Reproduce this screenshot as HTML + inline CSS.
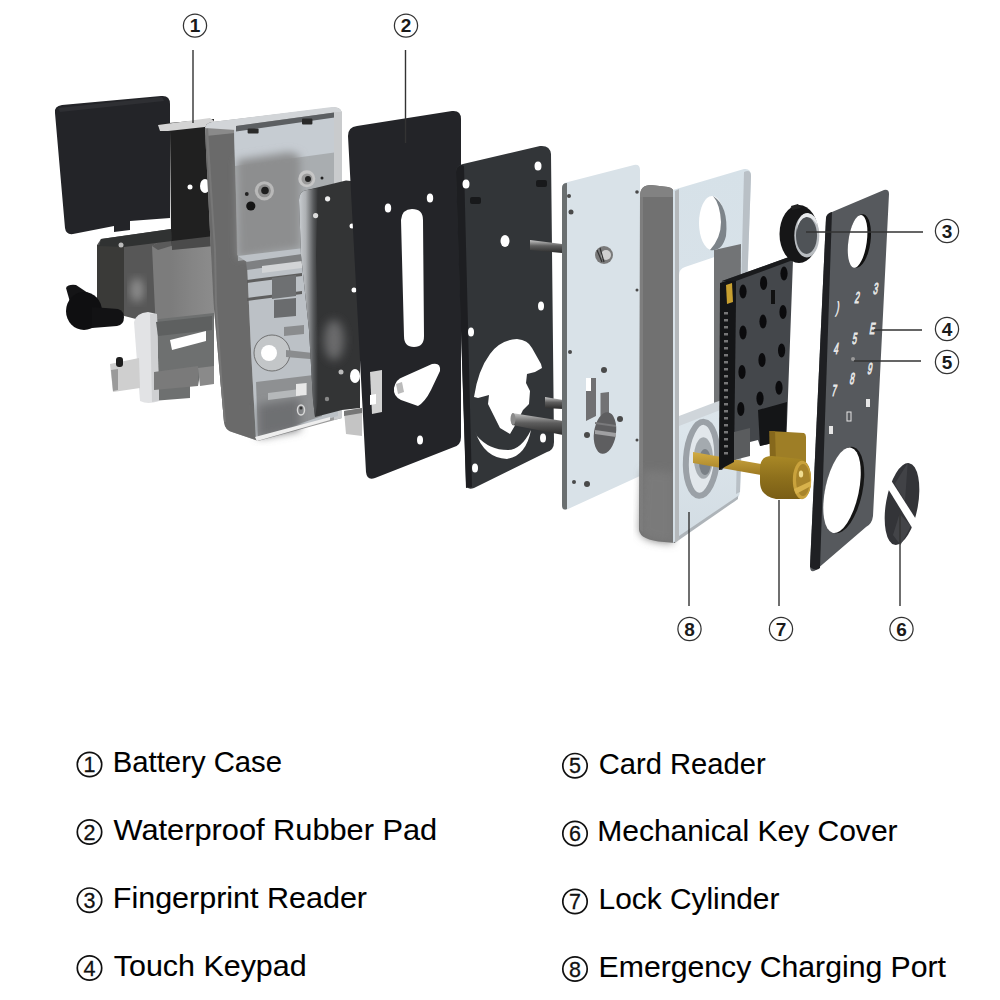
<!DOCTYPE html>
<html><head><meta charset="utf-8">
<style>
html,body{margin:0;padding:0;background:#fff;width:1000px;height:1000px;overflow:hidden}
svg{display:block}
text{font-family:"Liberation Sans",sans-serif}
</style></head><body>
<svg width="1000" height="1000" viewBox="0 0 1000 1000">
<defs>
<filter id="blur2" x="-20%" y="-20%" width="140%" height="140%"><feGaussianBlur stdDeviation="4"/></filter>
<filter id="blur3" x="-50%" y="-50%" width="200%" height="200%"><feGaussianBlur stdDeviation="5"/></filter>
<linearGradient id="gBrPlate" x1="0" y1="0" x2="1" y2="0"><stop offset="0" stop-color="#c8ccd0"/><stop offset="0.35" stop-color="#aeb1b4"/><stop offset="0.75" stop-color="#5a5c5e"/><stop offset="1" stop-color="#333435"/></linearGradient>
<linearGradient id="gBoxR" x1="171" y1="0" x2="214" y2="0" gradientUnits="userSpaceOnUse"><stop offset="0" stop-color="#7c7c7c"/><stop offset="0.5" stop-color="#858585"/><stop offset="1" stop-color="#8c8c8c"/></linearGradient>
<linearGradient id="gHousSide" x1="0" y1="0" x2="1" y2="0"><stop offset="0" stop-color="#a4a4a4"/><stop offset="0.5" stop-color="#8c8c8c"/><stop offset="1" stop-color="#7a7a7a"/></linearGradient>
<linearGradient id="gFrameSide" x1="0" y1="0" x2="1" y2="0"><stop offset="0" stop-color="#9a9a9a"/><stop offset="0.3" stop-color="#7a7a7a"/><stop offset="1" stop-color="#6a6a6a"/></linearGradient>
<linearGradient id="gFrameFront" x1="0" y1="0" x2="0" y2="1"><stop offset="0" stop-color="#d6e1e8"/><stop offset="0.3" stop-color="#d8e2e9"/><stop offset="0.7" stop-color="#dce5eb"/><stop offset="1" stop-color="#d2dce3"/></linearGradient>
<linearGradient id="gRod" x1="0" y1="0" x2="0" y2="1"><stop offset="0" stop-color="#c8c8c8"/><stop offset="0.45" stop-color="#5e5e5e"/><stop offset="1" stop-color="#2a2a2a"/></linearGradient>
<linearGradient id="gBrass" x1="0" y1="0" x2="0" y2="1"><stop offset="0" stop-color="#a98826"/><stop offset="0.5" stop-color="#8e701c"/><stop offset="1" stop-color="#7a5e16"/></linearGradient>
<linearGradient id="gBrassShaft" x1="0" y1="0" x2="0" y2="1"><stop offset="0" stop-color="#d2ac44"/><stop offset="1" stop-color="#9e7a22"/></linearGradient>
</defs>
<g id="art">
<path d="M55,113 Q54,106 62,105 L161,96 Q170,95 170,104 L170,218 L130,221 L130,230 L114,232 L114,226 L73,234 Q66,235 65,228 Z" fill="#232428"/>
<path d="M58,108 L162,97 L164,101 L60,112 Z" fill="#2e2f33"/>
<path d="M97,245 L101,239 L171,229 L214,228 L214,321 L171,328 L97,309 Z" fill="#575757"/>
<path d="M97,245 L124,246 L124,315 L97,309 Z" fill="#3a3a38"/>
<path d="M124,246 L171,240 L171,328 L124,315 Z" fill="#575757"/>
<ellipse cx="137" cy="290" rx="7" ry="12" fill="#8a8a8a" filter="url(#blur2)"/>
<path d="M152,246 Q160,240 171,240 L214,236 L214,321 L171,330 L156,332 Z" fill="url(#gBoxR)"/><path d="M152,246 Q160,240 171,240 L214,236 L214,242 L171,246 L158,250 Z" fill="#5a5a5a"/>
<path d="M101,239 L171,229 L172,241 L124,247 L99,246 Z" fill="#303232"/>
<circle cx="121" cy="245" r="2.5" fill="#bbb"/>
<path d="M158,124 L214,119 L214,245 L172,248 L171,229 L170,130 Z" fill="#202020"/>
<path d="M158,125 L210,118 L214,121 L214,126 L168,131 L160,131 Z" fill="#d4d4d4"/>
<path d="M172,241 L214,236 L214,246 L172,250 Z" fill="#4a4a4a"/>
<ellipse cx="205" cy="186" rx="5" ry="7" fill="#fff"/><circle cx="190" cy="187" r="2.5" fill="#fff"/>
<path d="M150,320 L214,313 L214,372 L200,374 L198,386 L190,386 L190,398 L152,401 Z" fill="#6e7070"/>
<path d="M134,322 Q136,313 148,312 L157,314 L159,401 Q148,405 140,401 Z" fill="#e2e3e5"/><path d="M150,314 L157,314 L159,401 L152,402 Z" fill="#cfd0d2"/>
<path d="M170,340 L206,331 L206,341 L172,350 Z" fill="#fff"/>
<path d="M154,372 L198,366 L198,386 L154,390 Z" fill="#7a7a7a"/>
<path d="M198,368 L214,366 L214,384 L200,386 Z" fill="#8a8a8a"/>
<path d="M156,322 L212,316 L212,330 L158,336 Z" fill="#5e6060"/>
<path d="M110,364 L139,358 L140,388 L113,392 Z" fill="#cfcfcf"/>
<path d="M111,370 L118,369 L118,390 L113,391 Z" fill="#9a9a9a"/>
<rect x="116" y="357" width="7" height="10" rx="3" fill="#1e1e1e"/>
<path d="M66,288 Q68,284 76,285 L88,293 L70,302 Z" fill="#141416"/>
<ellipse cx="84" cy="311" rx="18" ry="19" fill="#0f0f11"/>
<path d="M92,307 L118,309 Q124,311 124,317 Q124,325 117,326 L92,328 Z" fill="#121214"/>
<path d="M205,130 Q205,123 212,122 L334,107.5 Q342,107 342,115 L342,418 L258,441 L232,432 Q225,430 224,422 L220.3,380 L213.5,303 Z" fill="#9a9a9a"/>
<path d="M205,130 Q205,123 212,122 L234.5,127 L237,255 L247,262 L251,350 L256,440 L232,432 Q225,430 224,422 L220.3,380 L213.5,303 Z" fill="#6a6a6a"/>
<path d="M205,130 Q205,123 212,122 L234.5,127 L235,133 L206,136 Z" fill="#8a8a8a"/>
<path d="M205.5,130 L208,128 L213,205 L216,250 L217,303 L222.3,380 L226,422 L224,422 L220.3,380 L215,303 L214,250 L211,205 Z" fill="#777"/>
<path d="M234,128 L338,114 L338,246 L238,261 Z" fill="#a9adb0"/>
<path d="M234,128 L338,114 L338,152 L235,166 Z" fill="#c6ccd2"/>
<path d="M237,160 L290,152 L300,156 L300,248 L238,258 Z" fill="#8d8e8f" filter="url(#blur2)"/>
<path d="M205,128 Q206,123 212,122 L332,107 Q341,106.5 342,113 L338,112 L236,126 L236,130 Z" fill="#d2d5d8"/>
<path d="M236,126 L338,112 L338,117 L236,131.5 Z" fill="#5c5f62"/>
<path d="M334,112 L342,112 L342,418 L334,420 Z" fill="#c9cbcd"/>
<rect x="247.6" y="128.4" width="11" height="5" rx="1" fill="#2a2a2a"/><rect x="302" y="118.5" width="10.4" height="6" rx="1" fill="#2a2a2a"/>
<circle cx="264.4" cy="190.8" r="9.6" fill="#b8b8b8"/><circle cx="264.4" cy="190.8" r="6.5" fill="#8e8e8e"/><circle cx="265" cy="190.5" r="3.8" fill="#1e1e1e"/>
<circle cx="250.8" cy="206" r="4.6" fill="#151515"/><circle cx="246.8" cy="194" r="1.9" fill="#222"/>
<circle cx="306.8" cy="178.8" r="8.5" fill="#c6c6c6"/><circle cx="307" cy="179" r="5.5" fill="#9a9a9a"/><circle cx="308" cy="179" r="3" fill="#222"/><circle cx="322" cy="178" r="1.5" fill="#222"/>
<path d="M238,256 L338,244 L338,416 L256,440 L251,350 L247,262 Z" fill="#bcc1c6"/>
<path d="M246,262 L302,254 L302,262 L247,270 Z" fill="#7e8082"/>
<path d="M262,266 L302,261 L302,268 L262,273 Z" fill="#d2d4d6"/>
<path d="M247,280 L302,273 L302,276 L247,283 Z" fill="#5e5e5e"/>
<path d="M247,298 L302,291 L302,294 L247,301 Z" fill="#5e5e5e"/>
<path d="M272,278 L296,275 L296,296 L272,299 Z" fill="#6e7072"/>
<path d="M274,300 L296,298 L296,316 L274,318 Z" fill="#6a6c6e"/>
<circle cx="272" cy="353" r="18" fill="#c3c6c8" stroke="#5a5a5a" stroke-width="0.8"/><circle cx="269" cy="353" r="8" fill="#fff"/>
<path d="M284,327 L304,325 L304,334 L284,336 Z" fill="#8a8c8e"/>
<path d="M286,350 L322,354 L322,360 L286,357 Z" fill="#8a8c8e"/>
<path d="M256,382 L322,374 L322,416 L258,438 Z" fill="#8e9092"/>
<path d="M258,405 L300,398 L300,430 L258,438 Z" fill="#6e7072" filter="url(#blur2)"/>
<path d="M268,393 L300,389 L300,396 L268,400 Z" fill="#b5b8ba"/>
<path d="M296,384 L306.6,383 L306.6,395 L296,396 Z" fill="#e8e8e8"/>
<ellipse cx="301" cy="410" rx="3.5" ry="5" fill="none" stroke="#d8d8d8" stroke-width="1.5"/><circle cx="301" cy="408" r="1.5" fill="#333"/>
<path d="M255,437 L330,417 L330,420 L257,441 Z" fill="#eeeeee"/>
<path d="M299,200 Q299,191 307,190 L346,180.5 L360,182 L360,408 L342,410 L315,417 L313,400 L309,330 L301,255 Z" fill="#333435"/>
<path d="M299,200 Q299,191 307,190 L318,188 L316,255 L318,330 L318,400 L315,417 L313,400 L309,330 L301,255 Z" fill="url(#gBrPlate)"/>
<ellipse cx="334" cy="340" rx="10" ry="20" fill="#6a6b6c" filter="url(#blur3)"/>
<circle cx="327.6" cy="198.8" r="2.6" fill="#eee"/><circle cx="315.6" cy="215.6" r="2.6" fill="#ddd"/>
<ellipse cx="355" cy="376" rx="5" ry="7" fill="#fff"/><circle cx="341" cy="372" r="2.5" fill="#bbb"/><circle cx="352" cy="226" r="2.5" fill="#fff"/><circle cx="354" cy="290" r="2.5" fill="#fff"/><circle cx="327" cy="399" r="2.2" fill="#888"/>
<path d="M344,411 L362,408 L362,436 L346,434 Z" fill="#c4c4c4"/><path d="M344,411 L362,408 L362,413 L344,416 Z" fill="#777"/>
<path d="M348,136 Q348,127 357,126 L452,111 Q461,110 461,119 L461,437 Q461,445 454,447 L375,478 Q367,481 366,472 Z" fill="#232428"/>
<path d="M401,220 Q402,209 412,209 Q423,209 423,220 L424,336 Q424,347 414,347 Q404,347 404,336 Z" fill="#fff"/>
<path d="M394,388 Q396,379 403,377 L432,364 Q441,362 440,371 L431,390 Q425,402 418,406 L401,400 Q393,396 394,388 Z" fill="#fff"/>
<path d="M396,384 L402,382 L404,392 L398,394 Z" fill="#bbb"/>
<path d="M370,372 L382,370 L382,412 L372,414 Z" fill="#d2d2d2"/><path d="M370,395 L376,394 L376,404 L370,405 Z" fill="#fff"/>
<ellipse cx="388" cy="208" rx="3.2" ry="4.5" fill="#fff"/><ellipse cx="430" cy="198" rx="3.2" ry="4.5" fill="#fff"/><ellipse cx="420" cy="440" rx="3" ry="4.5" fill="#fff"/>
<path d="M456,172 Q456,165 463,164 L540,146 Q550,145 551,154 L554,442 Q554,450 547,452 L474,488 Q466,491 466,482 Z" fill="#323538"/>
<path d="M456,172 Q456,166 462,165 L464,166 L472,487 L466,488 Z" fill="#1d1e21"/>
<path d="M474,397 Q478,370 490,354 Q500,340 517,339 Q528,340 532,348 L541,364 L542,368 L535,372 L527,374 L526,383 L530,391 L529,404 L523,410 L517,422 L510,434 L500,428 L494,416 L488,404 L489,395 L478,398 Z" fill="#fff"/>
<path d="M475,431 Q484,458 507,459 Q526,456 531,430 Q521,450 508,450 Q489,450 477,436 Z" fill="#fff"/>
<ellipse cx="466" cy="184" rx="3.5" ry="4.5" fill="#fff"/><ellipse cx="538" cy="166" rx="3.5" ry="4.5" fill="#fff"/><ellipse cx="505" cy="241" rx="4.5" ry="6" fill="#fff"/><ellipse cx="541" cy="306" rx="3" ry="4.5" fill="#fff"/><ellipse cx="471" cy="332" rx="3" ry="4.5" fill="#fff"/><ellipse cx="543" cy="438" rx="3" ry="4.5" fill="#fff"/><ellipse cx="475" cy="468" rx="3" ry="4.5" fill="#fff"/>
<rect x="470" y="197" width="11" height="7" rx="2" fill="#18191b"/><rect x="536" y="180" width="11" height="7" rx="2" fill="#18191b"/>
<path d="M530,240 L562,244 L562,253 L530,250 Z" fill="url(#gRod)"/>
<path d="M545,397 L563,400 L563,409 L545,408 Z" fill="url(#gRod)"/>
<path d="M512,413 L563,421 L563,435 L512,425 Z" fill="url(#gRod)"/>
<ellipse cx="513" cy="419" rx="2.5" ry="6" fill="#8a8a8a"/>
<path d="M562,188 Q562,183 568,182 L634,165 Q640,164 640,170 L640,476 L568,509 Q562,511 562,505 Z" fill="#d9e2e8"/>
<path d="M562,188 Q562,183 567,183 L567,509 Q562,511 562,505 Z" fill="#6a6f70"/>
<circle cx="604" cy="255" r="9" fill="#7a7a7a"/><circle cx="606" cy="255" r="5" fill="#d0d0d0"/><path d="M597,250 L602,262 M600,248 L604,262" stroke="#333" stroke-width="1.2"/>
<circle cx="569" cy="196" r="2" fill="#4a4a4a"/>
<circle cx="571" cy="212" r="2.5" fill="#4a4a4a"/>
<circle cx="637" cy="192" r="1.8" fill="#4a4a4a"/>
<circle cx="570" cy="352" r="2" fill="#4a4a4a"/>
<circle cx="604" cy="370" r="3" fill="#4a4a4a"/>
<circle cx="587" cy="435" r="3" fill="#4a4a4a"/>
<circle cx="620" cy="419" r="3" fill="#4a4a4a"/>
<circle cx="587" cy="484" r="3" fill="#4a4a4a"/>
<circle cx="574" cy="482" r="2" fill="#4a4a4a"/>
<circle cx="637" cy="290" r="1.5" fill="#4a4a4a"/>
<circle cx="637" cy="440" r="1.5" fill="#4a4a4a"/>
<path d="M586,378 L596,378 L596,416 L586,421 Z" fill="#707072"/><path d="M586,378 L591,378 L591,391 L586,391 Z" fill="#fff"/>
<path d="M600.5,393 L609,392 L609,414 L600.5,416 Z" fill="#727274"/>
<ellipse cx="605" cy="433" rx="11" ry="21" transform="rotate(8 605 433)" fill="#5e5e60"/><path d="M595,430 L616,433 L616,437 L595,434 Z" fill="#a0a0a2"/><path d="M595,422 L616,425 L616,427 L595,424 Z" fill="#7a7a7c"/>
<path d="M640,196 Q640,185 651,185 L668,187 Q675,188 675,197 L675,543 L664,542 Q640,540 639,530 Z" fill="#717171"/>
<path d="M640,196 Q640,185 651,185 L668,187 Q675,188 675,197 L640,197 Z" fill="#828282"/>
<path d="M640,197 L643,197 L643,532 L640,530 Z" fill="#7e7e7e"/>
<path d="M643,470 L673,472 L673,543 L664,542 Q641,540 640,530 Z" fill="#7a7a7a" filter="url(#blur2)"/>
<path d="M673,190 L744,169 Q751,168 751,176 L740,490 Q740,500 730,504 L673,543 Z" fill="url(#gFrameFront)"/>
<path d="M675,191 L679,189 L679,540 L675,543 Z" fill="#b4b8bb"/>
<path d="M744,172 Q751,169 751,176 L740,492 L736,494 Z" fill="#b9c0c6"/>
<path d="M679,536 L738,496 L738,499 L679,540 Z" fill="#aeb4b9"/>
<path d="M679,275 Q679,269 685,267 L716,256.5 L720,402 L679,420 Z" fill="#fff"/>
<path d="M714,250 L741,244 L740,396 L714,404 Z" fill="#727476"/>
<path d="M679,416 L716,402 L741,394 L741,402 L679,426 Z" fill="#cfd5da"/>
<ellipse cx="712" cy="223" rx="13" ry="27" fill="#fff"/><path d="M713,196 Q729,206 726,236 Q722,252 710,250 Q721,238 721,222 Q720,204 713,196 Z" fill="#7d848a"/>
<ellipse cx="701.5" cy="458.8" rx="15.5" ry="37" transform="rotate(4 701.5 458.8)" fill="#e2e7eb" stroke="#9ba1a7" stroke-width="6"/>
<ellipse cx="703.4" cy="458" rx="9.5" ry="20.7" fill="#a4aaaf"/><ellipse cx="705" cy="462" rx="6" ry="13" fill="#7a8086"/>
<path d="M693,452 L761,464 L761,475 L693,463 Z" fill="url(#gBrassShaft)"/>
<path d="M722,281 L789,257 L793,260 L787,423 L786,440 L760,446 L758,440 L742,444 L740,458 L728,462 L722,470 L719,470 Z" fill="#44474b"/>
<path d="M720,283 L736,278 L736,300 L734,462 L719,470 Z" fill="#141517"/>
<path d="M722,281 L789,257 L793,260 L736,281 Z" fill="#1a1b1d"/>
<path d="M758,410 L787,402 L786,440 L760,446 Z" fill="#141517"/>
<path d="M726,285 L732,283 L733,302 L727,304 Z" fill="#c8a030"/>
<rect x="724" y="312" width="4" height="2.5" fill="#d8d8d8" opacity="0.5"/>
<rect x="724" y="319" width="4" height="2.5" fill="#d8d8d8" opacity="0.5"/>
<rect x="724" y="326" width="4" height="2.5" fill="#d8d8d8" opacity="0.5"/>
<rect x="724" y="333" width="4" height="2.5" fill="#d8d8d8" opacity="0.5"/>
<rect x="724" y="340" width="4" height="2.5" fill="#d8d8d8" opacity="0.5"/>
<rect x="724" y="347" width="4" height="2.5" fill="#d8d8d8" opacity="0.5"/>
<rect x="724" y="354" width="4" height="2.5" fill="#d8d8d8" opacity="0.5"/>
<rect x="724" y="361" width="4" height="2.5" fill="#d8d8d8" opacity="0.5"/>
<rect x="724" y="368" width="4" height="2.5" fill="#d8d8d8" opacity="0.5"/>
<rect x="724" y="375" width="4" height="2.5" fill="#d8d8d8" opacity="0.5"/>
<rect x="724" y="382" width="4" height="2.5" fill="#d8d8d8" opacity="0.5"/>
<rect x="724" y="389" width="4" height="2.5" fill="#d8d8d8" opacity="0.5"/>
<rect x="724" y="396" width="4" height="2.5" fill="#d8d8d8" opacity="0.5"/>
<rect x="724" y="403" width="4" height="2.5" fill="#d8d8d8" opacity="0.5"/>
<rect x="724" y="410" width="4" height="2.5" fill="#d8d8d8" opacity="0.5"/>
<rect x="724" y="417" width="4" height="2.5" fill="#d8d8d8" opacity="0.5"/>
<rect x="724" y="424" width="4" height="2.5" fill="#d8d8d8" opacity="0.5"/>
<rect x="724" y="431" width="4" height="2.5" fill="#d8d8d8" opacity="0.5"/>
<rect x="724" y="438" width="4" height="2.5" fill="#d8d8d8" opacity="0.5"/>
<rect x="724" y="445" width="4" height="2.5" fill="#d8d8d8" opacity="0.5"/>
<rect x="724" y="452" width="4" height="2.5" fill="#d8d8d8" opacity="0.5"/>
<path d="M734,432 L750,428 L750,456 L734,460 Z" fill="#5a5c5e"/>
<ellipse cx="743" cy="291.6" rx="3.6" ry="7" fill="#0b0b0d"/>
<ellipse cx="763.6" cy="283" rx="3.6" ry="7" fill="#0b0b0d"/>
<ellipse cx="784" cy="273.6" rx="3.6" ry="7" fill="#0b0b0d"/>
<ellipse cx="743" cy="332.5" rx="3.6" ry="7" fill="#0b0b0d"/>
<ellipse cx="763" cy="321.6" rx="3.6" ry="7" fill="#0b0b0d"/>
<ellipse cx="783" cy="312" rx="3.6" ry="7" fill="#0b0b0d"/>
<ellipse cx="742" cy="372" rx="3.6" ry="7" fill="#0b0b0d"/>
<ellipse cx="762" cy="360" rx="3.6" ry="7" fill="#0b0b0d"/>
<ellipse cx="781.6" cy="350.5" rx="3.6" ry="7" fill="#0b0b0d"/>
<ellipse cx="740.8" cy="409" rx="3.6" ry="7" fill="#0b0b0d"/>
<ellipse cx="760" cy="398.5" rx="3.6" ry="7" fill="#0b0b0d"/>
<ellipse cx="779" cy="387.7" rx="3.6" ry="7" fill="#0b0b0d"/>
<rect x="771" y="290" width="4" height="14" fill="#111"/>
<path d="M769.5,431 L804,433 Q806,434 806,437 L806,462 L770,462 Z" fill="#9e7e26"/>
<path d="M769.5,431 L775,431 L776,462 L770,462 Z" fill="#86681c"/>
<path d="M760,468 Q760,456 772,456 L800,459 Q811,462 811,479 Q811,498 800,499 L776,499 Q760,496 760,482 Z" fill="url(#gBrass)"/>
<ellipse cx="802" cy="480" rx="9.2" ry="19.2" fill="#c9a23c"/><ellipse cx="803" cy="480" rx="7" ry="16" fill="#a8842a"/><ellipse cx="801" cy="474" rx="2.2" ry="3.5" fill="#f0dc90"/><path d="M794,489 L811,481 L811,486 L796,494 Z" fill="#d8b24c"/>
<ellipse cx="799" cy="234" rx="19.5" ry="29" fill="#161617"/>
<path d="M791,206 L798,204 L801,208 L792,210 Z" fill="#222"/>
<ellipse cx="806.8" cy="235.5" rx="12.5" ry="22" fill="#b9bdc1"/><ellipse cx="806.5" cy="235.5" rx="10.5" ry="18.5" fill="#4f5357"/>
<path d="M797,230 Q798,213 808,213 Q816,214 818,226 Q812,216 806,217 Q799,219 797,230 Z" fill="#e8eaec"/>
<path d="M826,218 Q826,214 832,212 L884,190 Q889,189 889,194 L873,516 Q872,524 866,527 L816,570 Q810,574 810,566 Z" fill="#56595d"/>
<path d="M826,218 Q827,213 832,212 L820,568 Q816,572 810,567 Z" fill="#1f2023"/>
<ellipse cx="859.5" cy="241" rx="11" ry="27" transform="rotate(8 859.5 241)" fill="#101010"/><ellipse cx="857.6" cy="241.3" rx="9.2" ry="26.6" transform="rotate(8 857.6 241.3)" fill="#fff"/>
<ellipse cx="844" cy="490" rx="18.5" ry="44" transform="rotate(12 844 490)" fill="#151515"/><ellipse cx="842" cy="490.3" rx="16.8" ry="43.6" transform="rotate(12 842 490.3)" fill="#fff"/>
<text transform="translate(875,293.8) skewX(-10) scale(0.5,1)" font-size="16" text-anchor="middle" fill="#e8e8e8" stroke="#e8e8e8" stroke-width="0.9">3</text>
<text transform="translate(856.6,303.0) skewX(-10) scale(0.5,1)" font-size="16" text-anchor="middle" fill="#e8e8e8" stroke="#e8e8e8" stroke-width="0.9">2</text>
<text transform="translate(837,313.2) skewX(-10) scale(0.5,1)" font-size="16" text-anchor="middle" fill="#e8e8e8" stroke="#e8e8e8" stroke-width="0.9">)</text>
<text transform="translate(871.6,334.3) skewX(-10) scale(0.5,1)" font-size="16" text-anchor="middle" fill="#e8e8e8" stroke="#e8e8e8" stroke-width="0.9">E</text>
<text transform="translate(854,343.8) skewX(-10) scale(0.5,1)" font-size="16" text-anchor="middle" fill="#e8e8e8" stroke="#e8e8e8" stroke-width="0.9">5</text>
<text transform="translate(835.5,353.8) skewX(-10) scale(0.5,1)" font-size="16" text-anchor="middle" fill="#e8e8e8" stroke="#e8e8e8" stroke-width="0.9">4</text>
<text transform="translate(869.3,374.40000000000003) skewX(-10) scale(0.5,1)" font-size="16" text-anchor="middle" fill="#e8e8e8" stroke="#e8e8e8" stroke-width="0.9">9</text>
<text transform="translate(851.5,383.8) skewX(-10) scale(0.5,1)" font-size="16" text-anchor="middle" fill="#e8e8e8" stroke="#e8e8e8" stroke-width="0.9">8</text>
<text transform="translate(833.6,395.8) skewX(-10) scale(0.5,1)" font-size="16" text-anchor="middle" fill="#e8e8e8" stroke="#e8e8e8" stroke-width="0.9">7</text>
<rect x="866" y="399" width="4" height="8" fill="#e6e6e6"/><rect x="847" y="412" width="4" height="9" fill="none" stroke="#e6e6e6" stroke-width="1"/><rect x="829" y="426" width="4" height="8" fill="#e6e6e6"/><circle cx="853" cy="359" r="2" fill="#9a9a9a"/>
<ellipse cx="902" cy="504" rx="16" ry="41.5" transform="rotate(10 902 504)" fill="#333438"/>
<path d="M894.7,484 L907.7,463 L905,501 Z" fill="#45464a" opacity="0.8"/>
<path d="M899.6,514 L911,526 L900.5,545 L893,535 Z" fill="#47484c" opacity="0.8"/>
<path d="M887,474 L920,525.5 L915,532.5 L886,485.5 Z" fill="#fff"/>
</g>
<g id="labels">
<circle cx="195" cy="25.6" r="11.6" fill="none" stroke="#333" stroke-width="1.25"/>
<text x="195" y="32.300000000000004" font-size="19" font-weight="bold" text-anchor="middle" fill="#1a1a1a">1</text>
<circle cx="406" cy="25.6" r="11.6" fill="none" stroke="#333" stroke-width="1.25"/>
<text x="406" y="32.300000000000004" font-size="19" font-weight="bold" text-anchor="middle" fill="#1a1a1a">2</text>
<circle cx="947" cy="231" r="11.6" fill="none" stroke="#333" stroke-width="1.25"/>
<text x="947" y="237.7" font-size="19" font-weight="bold" text-anchor="middle" fill="#1a1a1a">3</text>
<circle cx="947" cy="329" r="11.6" fill="none" stroke="#333" stroke-width="1.25"/>
<text x="947" y="335.7" font-size="19" font-weight="bold" text-anchor="middle" fill="#1a1a1a">4</text>
<circle cx="947" cy="362" r="11.6" fill="none" stroke="#333" stroke-width="1.25"/>
<text x="947" y="368.7" font-size="19" font-weight="bold" text-anchor="middle" fill="#1a1a1a">5</text>
<circle cx="901.5" cy="629" r="11.6" fill="none" stroke="#333" stroke-width="1.25"/>
<text x="901.5" y="635.7" font-size="19" font-weight="bold" text-anchor="middle" fill="#1a1a1a">6</text>
<circle cx="781" cy="629" r="11.6" fill="none" stroke="#333" stroke-width="1.25"/>
<text x="781" y="635.7" font-size="19" font-weight="bold" text-anchor="middle" fill="#1a1a1a">7</text>
<circle cx="689.5" cy="629" r="11.6" fill="none" stroke="#333" stroke-width="1.25"/>
<text x="689.5" y="635.7" font-size="19" font-weight="bold" text-anchor="middle" fill="#1a1a1a">8</text>
<path d="M193,50 V123 M405.5,50 V143 M806,232 H923 M874,330 H922 M854,361 H921 M689,512 V606 M779,500 V606 M900,514 V606" stroke="#333" stroke-width="1.4" fill="none"/>
</g>
<g id="legend">
<circle cx="89.5" cy="764.5" r="12.2" fill="none" stroke="#111" stroke-width="1.7"/>
<text x="89.5" y="772.1" font-size="21.5" text-anchor="middle" fill="#111" stroke="#111" stroke-width="0.3">1</text>
<text x="112.8" y="772" font-size="30" textLength="169.2" lengthAdjust="spacingAndGlyphs" fill="#000" stroke="#000" stroke-width="0.1">Battery Case</text>
<circle cx="89.5" cy="832" r="12.2" fill="none" stroke="#111" stroke-width="1.7"/>
<text x="89.5" y="839.6" font-size="21.5" text-anchor="middle" fill="#111" stroke="#111" stroke-width="0.3">2</text>
<text x="113.6" y="840" font-size="30" textLength="323.6" lengthAdjust="spacingAndGlyphs" fill="#000" stroke="#000" stroke-width="0.1">Waterproof Rubber Pad</text>
<circle cx="89.5" cy="900.2" r="12.2" fill="none" stroke="#111" stroke-width="1.7"/>
<text x="89.5" y="907.8000000000001" font-size="21.5" text-anchor="middle" fill="#111" stroke="#111" stroke-width="0.3">3</text>
<text x="112.8" y="908" font-size="30" textLength="254.2" lengthAdjust="spacingAndGlyphs" fill="#000" stroke="#000" stroke-width="0.1">Fingerprint Reader</text>
<circle cx="89.5" cy="968" r="12.2" fill="none" stroke="#111" stroke-width="1.7"/>
<text x="89.5" y="975.6" font-size="21.5" text-anchor="middle" fill="#111" stroke="#111" stroke-width="0.3">4</text>
<text x="113.8" y="976" font-size="30" textLength="192.8" lengthAdjust="spacingAndGlyphs" fill="#000" stroke="#000" stroke-width="0.1">Touch Keypad</text>
<circle cx="575" cy="765.7" r="12.2" fill="none" stroke="#111" stroke-width="1.7"/>
<text x="575" y="773.3000000000001" font-size="21.5" text-anchor="middle" fill="#111" stroke="#111" stroke-width="0.3">5</text>
<text x="598.8" y="773.6" font-size="30" textLength="166.8" lengthAdjust="spacingAndGlyphs" fill="#000" stroke="#000" stroke-width="0.1">Card Reader</text>
<circle cx="575" cy="833.5" r="12.2" fill="none" stroke="#111" stroke-width="1.7"/>
<text x="575" y="841.1" font-size="21.5" text-anchor="middle" fill="#111" stroke="#111" stroke-width="0.3">6</text>
<text x="597.1999999999999" y="841.2" font-size="30" textLength="300.4" lengthAdjust="spacingAndGlyphs" fill="#000" stroke="#000" stroke-width="0.1">Mechanical Key Cover</text>
<circle cx="575" cy="901.5" r="12.2" fill="none" stroke="#111" stroke-width="1.7"/>
<text x="575" y="909.1" font-size="21.5" text-anchor="middle" fill="#111" stroke="#111" stroke-width="0.3">7</text>
<text x="598.5999999999999" y="909.4" font-size="30" textLength="180.8" lengthAdjust="spacingAndGlyphs" fill="#000" stroke="#000" stroke-width="0.1">Lock Cylinder</text>
<circle cx="575" cy="969" r="12.2" fill="none" stroke="#111" stroke-width="1.7"/>
<text x="575" y="976.6" font-size="21.5" text-anchor="middle" fill="#111" stroke="#111" stroke-width="0.3">8</text>
<text x="598.5999999999999" y="977.2" font-size="30" textLength="347.4" lengthAdjust="spacingAndGlyphs" fill="#000" stroke="#000" stroke-width="0.1">Emergency Charging Port</text>
</g>
</svg>
</body></html>
